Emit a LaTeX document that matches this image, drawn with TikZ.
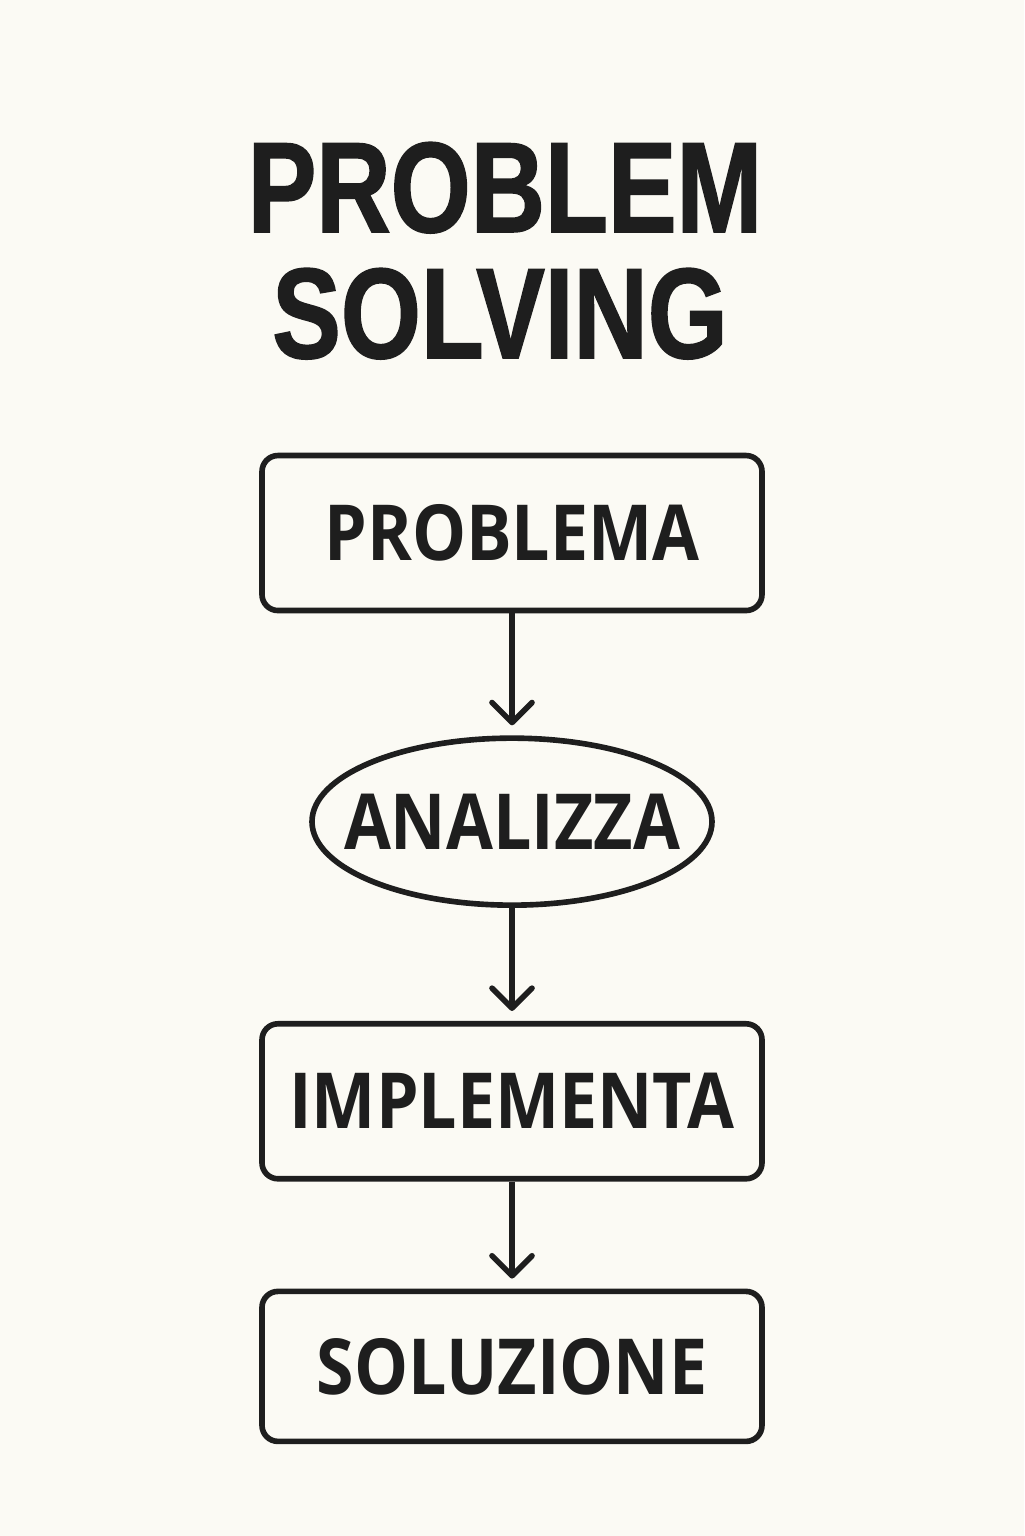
\documentclass[tikz,border=0pt]{standalone}
\usepackage{fontspec}
\newfontfamily\titlefont[FakeStretch=0.8,FakeBold=1.2]{Liberation Sans}
\newfontfamily\labelfont[FakeStretch=0.88]{Open Sans Bold}
\usetikzlibrary{arrows.meta,shapes.geometric}
\definecolor{paper}{HTML}{FBFAF4}
\definecolor{ink}{HTML}{1E1E1E}

\begin{document}
\begin{tikzpicture}[
  every matrix/.style={ampersand replacement=\&, row sep=1.13cm, inner sep=0pt},
  stepbox/.style={draw=ink, rounded corners=0.16cm, line width=1.6pt, minimum width=5cm, minimum height=1.55cm, text=ink, font=\labelfont\fontsize{22}{26}\selectfont},
  task/.style={draw=ink, ellipse, line width=1.6pt, minimum width=4cm, minimum height=1.67cm, inner sep=0pt, text=ink, font=\labelfont\fontsize{22}{26}\selectfont},
  arrow/.style={-{Straight Barb[length=2mm,width=4mm,round]}, line width=1.6pt, draw=ink, shorten >=0.1cm},
  title/.style={text=ink, anchor=base, inner sep=0pt, font=\titlefont\bfseries\fontsize{36.6}{40}\selectfont}]

  \fill[paper] (0,0) rectangle (10.24,-15.36);
  \useasboundingbox (0,0) rectangle (10.24,-15.36);

  % Title
  \node[title] (title-top) at (5.05,-2.32) {PROBLEM};
  \node[title] (title-bottom) at (5.0,-3.58) {SOLVING};

  % Steps of the flow, one column
  \matrix[anchor=north] at (5.12,-4.52) {
    \node[stepbox] (problem) {PROBLEMA}; \\[0.09cm]
    \node[task] (analyse) {\makebox[0pt]{ANALIZZA}}; \\
    \node[stepbox] (implement) {IMPLEMENTA}; \\[-0.06cm]
    \node[stepbox, minimum height=1.5cm] (solution) {SOLUZIONE}; \\
  };

  % Arrows between the steps
  \draw[arrow] (problem) -- (analyse);
  \draw[arrow] (analyse) -- (implement);
  \draw[arrow] (implement) -- (solution);

\end{tikzpicture}
\end{document}
